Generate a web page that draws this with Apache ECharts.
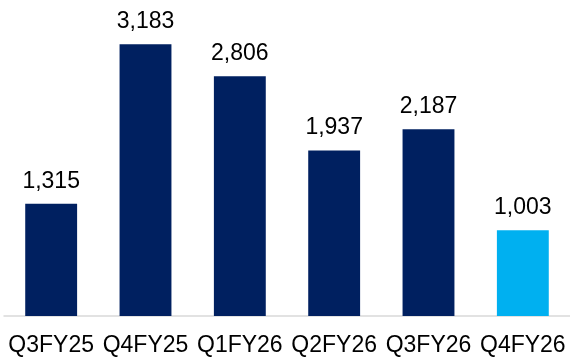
<!DOCTYPE html>
<html>
<head>
<meta charset="utf-8">
<script src="https://cdn.jsdelivr.net/npm/echarts@6/dist/echarts.min.js"></script>
<style>
  html, body { margin: 0; padding: 0; background: #fff; }
  #chart { width: 570px; height: 357px; }
</style>
</head>
<body>
<div id="chart"></div>
<script>
// Quarterly values
const quarters = ['Q3FY25', 'Q4FY25', 'Q1FY26', 'Q2FY26', 'Q3FY26', 'Q4FY26'];
const values = [1315, 3183, 2806, 1937, 2187, 1003];
const navy = '#002060';
const highlight = '#00B0F0';

const chart = echarts.init(document.getElementById('chart'), null, { renderer: 'canvas' });
chart.setOption({
  animation: false,
  grid: { left: 4, right: 0, top: 0, bottom: 41, containLabel: false, outerBoundsMode: 'none' },
  xAxis: {
    type: 'category',
    data: quarters,
    axisLine: { show: true, lineStyle: { color: '#d9d9d9', width: 1.5 } },
    axisTick: { show: false },
    axisLabel: {
      color: '#000',
      fontFamily: 'Liberation Sans, Arial, sans-serif',
      fontSize: 23,
      margin: 18,
      interval: 0
    }
  },
  yAxis: {
    type: 'value',
    min: 0,
    max: 3700,
    show: false,
    splitLine: { show: false }
  },
  series: [{
    type: 'bar',
    barWidth: '55%',
    data: values.map((v, i) => ({
      value: v,
      itemStyle: { color: i === values.length - 1 ? highlight : navy }
    })),
    label: {
      show: true,
      position: 'top',
      distance: 11,
      color: '#000',
      fontFamily: 'Liberation Sans, Arial, sans-serif',
      fontSize: 23,
      formatter: p => p.value.toLocaleString('en-US')
    }
  }]
});
</script>
</body>
</html>
